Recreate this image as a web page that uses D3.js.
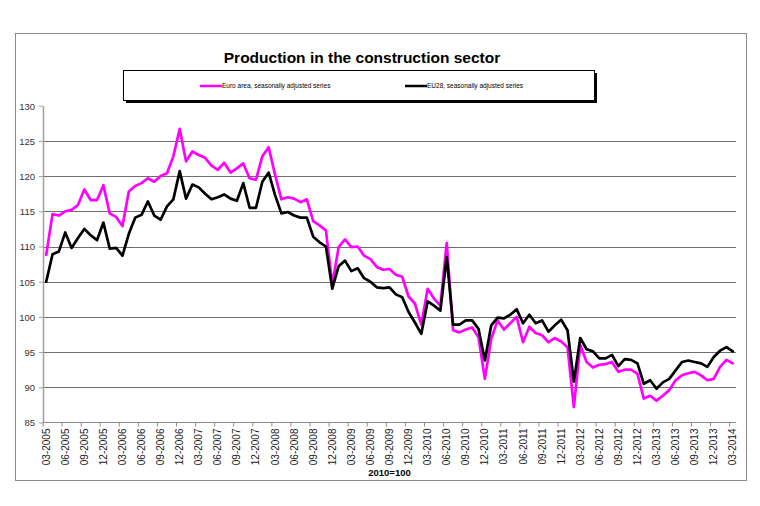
<!DOCTYPE html>
<html><head><meta charset="utf-8">
<script src="https://cdn.jsdelivr.net/npm/d3@7"></script>
<style>body{margin:0;background:#fff}svg{display:block;font-family:Arial,"Liberation Sans",sans-serif}</style>
</head><body>
<svg id="chart" width="760" height="506"></svg>
<script>
const euroArea = [108.8,114.6,114.4,115.0,115.2,115.9,118.1,116.6,116.6,118.7,114.7,114.2,112.9,117.8,118.6,119.0,119.7,119.2,120.0,120.4,
122.8,126.7,122.1,123.5,123.0,122.6,121.5,120.9,121.9,120.5,121.1,121.8,119.7,119.5,122.8,124.1,120.2,116.7,117.0,116.8,
116.3,116.7,113.6,113.0,112.3,104.6,109.9,111.0,109.9,110.0,108.7,108.2,107.1,106.7,106.8,106.0,105.7,102.9,101.9,98.9,
104.0,102.6,101.6,110.5,98.1,97.8,98.2,98.5,97.1,91.2,96.9,99.5,98.2,99.1,100.0,96.4,98.6,97.7,97.4,96.4,
97.0,96.5,95.7,87.2,96.0,93.6,92.8,93.2,93.3,93.6,92.2,92.5,92.5,91.9,88.4,88.8,88.1,88.8,89.6,91.0,
91.7,92.0,92.2,91.7,91.0,91.2,92.9,93.9,93.4];
const eu28 = [105.0,108.9,109.3,112.0,109.8,111.2,112.5,111.6,110.9,113.4,109.7,109.8,108.7,111.8,114.1,114.5,116.4,114.4,113.8,115.7,
116.7,120.7,116.8,118.8,118.4,117.5,116.7,117.0,117.4,116.8,116.5,119.0,115.5,115.5,119.2,120.5,117.3,114.7,114.9,114.4,
114.1,114.1,111.4,110.6,110.0,104.0,107.2,108.0,106.5,106.9,105.5,105.0,104.2,104.1,104.2,103.2,102.8,100.7,99.2,97.6,
102.2,101.6,100.9,108.5,98.9,98.9,99.5,99.5,98.3,93.8,98.8,99.9,99.8,100.3,101.1,99.1,100.3,99.1,99.5,97.9,
98.8,99.6,98.1,90.8,97.0,95.4,95.1,94.1,94.1,94.6,93.0,94.0,93.9,93.4,90.5,91.0,89.8,90.7,91.2,92.4,
93.6,93.8,93.6,93.4,92.9,94.3,95.2,95.7,95.1];
const yTicks = [85,90,95,100,105,110,115,120,125,130];
const tickLabels = ["03-2005","06-2005","09-2005","12-2005","03-2006","06-2006","09-2006","12-2006","03-2007","06-2007",
"09-2007","12-2007","03-2008","06-2008","09-2008","12-2008","03-2009","06-2009","09-2009","12-2009","03-2010","06-2010",
"09-2010","12-2010","03-2011","06-2011","09-2011","12-2011","03-2012","06-2012","09-2012","12-2012","03-2013","06-2013",
"09-2013","12-2013","03-2014"];
const seriesNames = ["Euro area, seasonally adjusted series","EU28, seasonally adjusted series"];
const seriesColors = ["#ff00ff","#000000"];
const titleText = "Production in the construction sector";
const baseText = "2010=100";

// monthly categories 03-2005 .. 03-2014
const categories = [];
for (let yr = 2005; yr <= 2014; yr++) {
  for (let m = 1; m <= 12; m++) {
    if ((yr === 2005 && m < 3) || (yr === 2014 && m > 3)) continue;
    categories.push(String(m).padStart(2,"0") + "-" + yr);
  }
}

const svg = d3.select("#chart");
svg.append("rect").attr("x",15.5).attr("y",33.5).attr("width",731).attr("height",447)
  .attr("fill","none").attr("stroke","#8c8c8c").attr("stroke-width",1);

const pLeft = 43, pRight = 736, pTop = 105.7, pBottom = 422.5;
const x = d3.scaleBand().domain(categories).range([pLeft, pRight]);
const y = d3.scaleLinear().domain([85,130]).range([pBottom, pTop]);
const cx = c => x(c) + x.bandwidth()/2;

svg.append("text").attr("x",362).attr("y",63).attr("text-anchor","middle")
  .attr("font-size",15.5).attr("font-weight","bold").text(titleText);

svg.append("rect").attr("x",126).attr("y",73).attr("width",471).attr("height",30).attr("fill","#000");
svg.append("rect").attr("x",123.5).attr("y",70.5).attr("width",471).attr("height",30)
  .attr("fill","#fff").attr("stroke","#000").attr("stroke-width",1);
const legX = [200,405];
seriesNames.forEach((n,i) => {
  svg.append("line").attr("x1",legX[i]).attr("x2",legX[i]+22).attr("y1",86).attr("y2",86)
    .attr("stroke",seriesColors[i]).attr("stroke-width",2.5);
  svg.append("text").attr("x",legX[i]+22).attr("y",88.3).attr("font-size",6.5).attr("fill","#000").text(n);
});

svg.append("g").selectAll("line").data(yTicks.filter(t => t > 85 && t < 130)).join("line")
  .attr("x1",pLeft).attr("x2",pRight).attr("y1",d=>Math.round(y(d))+0.5).attr("y2",d=>Math.round(y(d))+0.5)
  .attr("stroke","#6e6e6e").attr("stroke-width",1);

const yAxis = svg.append("g").attr("transform",`translate(${pLeft},0)`)
  .call(d3.axisLeft(y).tickValues(yTicks).tickSize(4).tickSizeOuter(0).tickFormat(d3.format("d")));
yAxis.select(".domain").attr("stroke","#a0a0a0").attr("stroke-width",1.5);
yAxis.selectAll(".tick line").attr("stroke","#a0a0a0");
yAxis.selectAll(".tick text").attr("font-size",9.5).attr("fill","#333").attr("x",-8).attr("dy","0.35em")
  .attr("font-family","Arial, 'Liberation Sans', sans-serif");

svg.append("line").attr("x1",pLeft).attr("x2",pRight).attr("y1",pBottom).attr("y2",pBottom)
  .attr("stroke","#8c8c8c").attr("stroke-width",1.2);
const tickCats = categories.filter((c,i) => i % 3 === 0);
svg.append("g").selectAll("line").data(tickCats).join("line")
  .attr("x1",d=>x(d)).attr("x2",d=>x(d)).attr("y1",pBottom).attr("y2",pBottom+4)
  .attr("stroke","#8c8c8c");
svg.append("g").selectAll("text").data(tickLabels).join("text")
  .attr("transform",d=>`translate(${cx(d)+3.5},${pBottom+6}) rotate(-90)`)
  .attr("text-anchor","end").attr("font-size",10).attr("fill","#222").text(d=>d);

svg.append("text").attr("x",(pLeft+pRight)/2).attr("y",476).attr("text-anchor","middle")
  .attr("font-size",9.5).attr("font-weight","bold").text(baseText);

const line = d3.line().x((d,i)=>cx(categories[i])).y(d=>y(d));
[euroArea, eu28].forEach((s,i) => {
  svg.append("path").datum(s).attr("d",line).attr("fill","none")
    .attr("stroke",seriesColors[i]).attr("stroke-width",2.7)
    .attr("stroke-linejoin","round").attr("stroke-linecap","round");
});
</script>
</body></html>
